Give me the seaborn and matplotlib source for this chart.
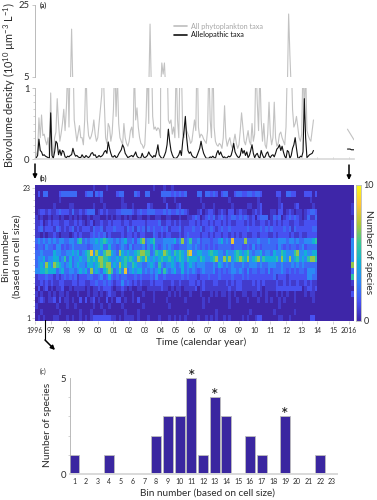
import numpy as np
import matplotlib
matplotlib.use('Agg')
import matplotlib.pyplot as plt
import seaborn as sns
from matplotlib.colors import LinearSegmentedColormap
from matplotlib.lines import Line2D
from matplotlib.patches import FancyArrowPatch

# --- data ---
grey_years = [
    [.03, .06, .12, .58, .30, .62, .33, .35, .26, .20, .30, .06],
    [.93, .12, .06, .30, .38, .85, .50, .25, .36, .50, .70, .40],
    [.72, 1.3, .45, 1.6, 18.3, 1.5, .55, .40, .25, .36, .47, .30],
    [.30, .20, .55, 1.3, .55, .33, .28, .32, .40, .55, .35, .25],
    [.30, .50, .70, .90, 1.4, .80, .30, .22, .50, .45, .25, .36],
    [.70, 1.4, .60, 1.2, .50, .30, .25, .20, .50, .30, .22, .18],
    [.25, .40, .45, .30, 1.3, .55, .72, .45, .30, .22, .20, .15],
    [.20, .60, 1.3, .50, 19.7, 1.6, .60, .42, .45, .40, .44, .42],
    [.30, 8.9, 5.8, 8.9, 1.3, 1.5, .55, .50, .55, .35, .45, .30],
    [1.4, .55, .30, 1.5, 1.3, .35, .30, .50, .40, .35, .30, .22],
    [.25, .40, .55, .40, 1.6, .45, .30, .35, .33, .28, .25, .22],
    [.40, 1.4, .55, .30, 1.5, .45, .25, .20, .18, .22, .20, .15],
    [.30, .75, .30, .18, .25, .30, .20, .15, .25, .35, .22, .15],
    [.20, .40, .65, .45, .25, .20, .30, .40, .25, .20, .50, .25],
    [.35, 1.4, .80, .40, 1.3, .55, .25, .50, .20, .15, .35, .80],
    [.35, .20, .30, .80, .30, .18, .22, .35, .38, .30, .25, .20],
    [.45, 1.3, 22.5, 10.8, 1.4, .70, .45, .50, .60, .45, .30, .25],
    [.35, 1.4, .60, 1.3, .40, .33, .28, .25, .40, .55],
]
black_years = [
    [.01, .02, .05, .28, .12, .10, .05, .06, .04, .03, .02, .01],
    [.65, .05, .01, .10, .25, .22, .06, .13, .05, .12, .10, .03],
    [.02, .04, .03, .05, .06, .15, .08, .04, .05, .03, .02, .02],
    [.06, .03, .02, .05, .03, .02, .04, .08, .09, .05, .06, .02],
    [.03, .05, .03, .04, .06, .10, .12, .08, .24, .15, .08, .03],
    [.03, .05, .02, .03, .07, .10, .13, .20, .16, .08, .05, .02],
    [.03, .04, .05, .03, .06, .10, .04, .02, .01, .02, .08, .03],
    [.02, .03, .05, .10, .06, .04, .02, .05, .03, .10, .20, .06],
    [.03, .01, .01, .05, .10, .20, .42, .25, .12, .06, .02, .01],
    [.01, .03, .06, .12, .05, .25, .40, .60, .30, .12, .08, .10],
    [.05, .03, .02, .01, .05, .10, .15, .25, .15, .08, .04, .01],
    [.01, .01, .03, .02, .04, .02, .01, .08, .12, .06, .10, .05],
    [.02, .03, .01, .02, .04, .03, .05, .12, .22, .10, .06, .03],
    [.02, .05, .15, .08, .12, .05, .10, .02, .05, .12, .20, .08],
    [.02, .06, .08, .03, .01, .12, .06, .02, .03, .08, .10, .04],
    [.02, .05, .06, .03, .08, .14, .16, .20, .12, .18, .10, .04],
    [.01, .12, .10, .01, .05, .15, .20, .30, .15, .02, .01, .04],
    [.03, .10, .85, .30, .02, .04, .06, .07, .08, .12],
]
tail_months = [239, 240, 241, 242, 243, 244]
grey_tail = [.42, .39, .36, .33, .30, .27]
black_tail = [.14, .14, .14, .13, .13, .13]

year_labels = ['1996', '97', '98', '99', '00', '01', '02', '03', '04', '05', '06',
               '07', '08', '09', '10', '11', '12', '13', '14', '15', '2016']

# rows from bin 23 (top) to bin 1, 1996-2013, six cells per year
# digits are colour classes, digit_species gives the species count of each
heat_rows = [
    "000000 000000 000000 000010 000100 000000 000000 000100 010010 000000 000000 000000 000000 000000 000000 000000 000000 000000",
    "020330 000233 333300 023303 230000 023300 003200 330000 333323 232300 003303 323202 330023 322332 332000 002200 332200 022202",
    "000000 000100 000000 000000 010000 000100 000000 000000 010001 000000 000100 000000 001000 000000 010000 000100 000000 000100",
    "000000 010000 011000 000010 001000 000110 010000 021000 002000 120000 000010 001000 000100 000110 012000 000120 000120 000010",
    "012212 112322 213112 123330 121211 122333 321232 233322 232322 323210 001201 221012 102201 211001 212000 110220 121011 012332",
    "101001 011010 010101 001011 100101 011010 100110 010011 001100 010011 232012 323123 212332 323212 023330 132301 232321 013113",
    "112012 122112 211212 101201 121121 222122 122222 122223 112212 121112 212122 121221 212112 221212 112212 121212 211221 122222",
    "123122 213212 123121 222132 231222 322213 231323 132322 323122 231222 322312 232123 223222 222322 223232 322223 231322 222233",
    "110101 121011 101212 111232 323121 111212 212122 111321 212211 121232 222122 121221 221212 122112 212221 121222 212112 112222",
    "343434 343443 344356 343445 456544 343453 342467 345633 344445 347346 334233 323345 343833 337333 343334 333444 344343 344456",
    "233243 324423 234333 332344 453353 323432 423334 243532 343432 233344 343232 323233 333233 322324 232333 332432 323323 423333",
    "334333 354433 445453 456847 546775 437545 445677 663465 576546 565478 445544 565544 354456 545643 445344 354465 444674 454455",
    "344534 455346 353445 446565 776654 454565 654765 754545 655654 565465 554654 456744 757456 765745 674655 556475 474564 546776",
    "345475 476543 453454 435545 676774 547564 465443 345436 434454 345345 434443 334354 343433 343344 434334 443343 334343 433333",
    "445565 553453 344345 453745 435676 346483 454553 434345 364345 335343 432343 334232 323443 432423 323324 233343 232323 324443",
    "122232 212123 232312 223322 342353 232332 223232 223242 232222 223232 221222 322232 222322 232322 222222 231222 122222 224433",
    "112121 211221 112212 211223 223232 122423 212121 112122 211121 121112 212121 112211 121212 211112 121211 112112 121121 121211",
    "020120 101120 010111 101011 212221 011210 100110 011111 211010 110111 120121 111111 112112 211111 121011 112222 222222 012212",
    "101001 010110 100010 001011 010121 100100 010001 000100 000101 010001 000100 010101 101010 011001 101010 001010 100100 010110",
    "012101 120201 101002 020120 100201 022010 010200 000100 001000 000100 000010 100000 001001 000100 010010 100101 000100 000010",
    "100000 001000 100100 000010 010010 000100 000001 000000 000100 000000 000010 000000 001000 000000 000000 000100 000000 000000",
    "001000 000100 000001 000100 001000 000010 000100 000000 000000 000010 000000 000100 000000 000010 000000 010000 000100 000000",
    "010100 011000 101001 010122 222221 101011 110100 010001 000101 010100 001001 010100 101000 010100 122000 000110 010000 000220",
]
# last cell on the right, the 2016 samples, from bin 23 to bin 1
heat_2016 = [0, 0, 0, 1, 1, 0, 1, 1, 1, 4, 4, 4, 4, 7, 3, 6, 1, 0, 2, 0, 0, 0, 0]
digit_species = np.array([0, .7, 1.4, 2.1, 3.0, 4.2, 5.4, 6.8, 8.2, 9.2])

bin_labels = [str(b) for b in range(1, 24)]
bin_species = [1, 0, 0, 1, 0, 0, 0, 2, 3, 3, 5, 1, 4, 3, 0, 2, 1, 0, 3, 0, 0, 1, 0]
starred_bins = ['11', '13', '19']

grey_vals = np.concatenate(grey_years)
black_vals = np.concatenate(black_years)
months = np.arange(len(grey_vals))

heat = digit_species[np.array([[int(c) for c in r.replace(' ', '')] + [0] * 13 + [last]
                               for r, last in zip(heat_rows, heat_2016)])]

# --- style ---
sns.set_style('white')
plt.rcParams['font.family'] = ['Lato', 'DejaVu Sans']
plt.rcParams['mathtext.default'] = 'regular'

W, H = 377, 500
fig = plt.figure(figsize=(W / 100, H / 100), dpi=100)


def box(x0, y0, x1, y1):
    # pixel box -> figure fractions
    return [x0 / W, 1 - y1 / H, (x1 - x0) / W, (y1 - y0) / H]


def fxy(x, y):
    return x / W, 1 - y / H


axis_grey = '#b0b0b0'
text_col = '#2b2b2b'
parula = LinearSegmentedColormap.from_list('parula', [
    (0.2422, 0.1504, 0.6603), (0.2810, 0.3228, 0.9579), (0.1786, 0.5289, 0.9682),
    (0.0689, 0.6948, 0.8394), (0.2161, 0.7843, 0.5923), (0.6720, 0.7793, 0.2227),
    (0.9970, 0.7659, 0.2199), (0.9769, 0.9839, 0.0805)])

# --- (a) broken axis line plot ---
ax_top = fig.add_axes(box(35, 5, 354, 77))
ax_low = fig.add_axes(box(35, 88, 354, 159))
for ax in (ax_top, ax_low):
    sns.lineplot(x=months, y=grey_vals, color='#c2c2c2', lw=0.8, estimator=None, ax=ax)
    sns.lineplot(x=tail_months, y=grey_tail, color='#c2c2c2', lw=0.8, estimator=None, ax=ax)
    sns.lineplot(x=months, y=black_vals, color='#111111', lw=0.8, estimator=None, ax=ax)
    sns.lineplot(x=tail_months, y=black_tail, color='#111111', lw=0.8, estimator=None, ax=ax)
    ax.set_xlim(0, 244)
    ax.set_xlabel('')
    ax.set_ylabel('')
    sns.despine(ax=ax, top=True, right=True)
    ax.spines['left'].set_color(axis_grey)
    ax.spines['left'].set_linewidth(0.6)

ax_top.set_ylim(5, 25)
ax_top.set_yticks([5, 25])
ax_top.set_xticks([])
ax_top.spines['bottom'].set_visible(False)
ax_top.tick_params(axis='y', labelsize=6.8, length=2, width=0.5, color=axis_grey,
                   labelcolor=text_col, pad=2, left=True)

ax_low.set_ylim(0, 1)
ax_low.set_yticks([0, 1])
ax_low.set_yticks(np.arange(0.1, 1.0, 0.1), minor=True)
ax_low.set_xticks(np.arange(0, 244, 12))
ax_low.set_xticklabels([])
ax_low.spines['bottom'].set_color('#d9d9d9')
ax_low.spines['bottom'].set_linewidth(1.2)
ax_low.tick_params(axis='y', which='major', labelsize=6.8, length=2, width=0.5,
                   color=axis_grey, labelcolor=text_col, pad=2, left=True)
ax_low.tick_params(axis='y', which='minor', length=1.5, width=0.4, color=axis_grey, left=True)
ax_low.tick_params(axis='x', direction='in', length=1.5, width=0.4, color=axis_grey, bottom=True)

ax_top.legend(handles=[Line2D([], [], color='#bdbdbd', lw=1.2, label='All phytoplankton taxa'),
                       Line2D([], [], color='#111111', lw=1.2, label='Allelopathic taxa')],
              loc='upper left', bbox_to_anchor=fxy(170, 19), bbox_transform=fig.transFigure,
              frameon=False, fontsize=5.2, handlelength=1.9, handletextpad=0.5,
              labelspacing=0.2, borderpad=0, labelcolor=['#a6a6a6', '#111111'])

# --- (b) heat map ---
ax_heat = fig.add_axes(box(35, 185, 354, 321))
cax = fig.add_axes(box(356, 185, 360.5, 321))
sns.heatmap(heat, cmap=parula, vmin=0, vmax=10, ax=ax_heat, cbar_ax=cax,
            xticklabels=False, yticklabels=False, rasterized=True)
ax_heat.set_xticks(np.arange(0, 121, 6))
ax_heat.set_xticklabels(year_labels, rotation=0)
ax_heat.set_yticks(np.arange(23) + 0.5, minor=True)
ax_heat.set_yticks([0.5, 22.5])
ax_heat.set_yticklabels(['23', '1'], rotation=0)
ax_heat.tick_params(axis='x', labelsize=5, length=2, width=0.4, color=axis_grey,
                    labelcolor=text_col, pad=2.5, bottom=True)
ax_heat.tick_params(axis='y', which='major', labelsize=5, length=2, width=0.4,
                    color=axis_grey, labelcolor=text_col, pad=1, left=True)
ax_heat.tick_params(axis='y', which='minor', length=1.5, width=0.4, color=axis_grey, left=True)

cax.set_yticks([0, 10])
cax.set_yticklabels(['0', '10'])
cax.tick_params(labelsize=6.5, length=0, pad=2, labelcolor=text_col)
for s in cax.spines.values():
    s.set_visible(True)
    s.set_color('#bfbfbf')
    s.set_linewidth(0.5)

# --- (c) bars ---
ax_bar = fig.add_axes(box(70, 378, 337, 474))
sns.barplot(x=bin_labels, y=bin_species, color='#3a26a0', saturation=1, width=0.85,
            edgecolor='#bdbdbd', linewidth=0.6, ax=ax_bar)
ax_bar.set_xlim(-0.35, 22.43)
ax_bar.set_ylim(0, 5)
ax_bar.set_yticks([0, 5])
ax_bar.set_yticks([1, 2, 3, 4], minor=True)
sns.despine(ax=ax_bar, top=True, right=True)
ax_bar.spines['left'].set_color(axis_grey)
ax_bar.spines['left'].set_linewidth(0.6)
ax_bar.spines['bottom'].set_color('#d9d9d9')
ax_bar.spines['bottom'].set_linewidth(1.4)
ax_bar.tick_params(axis='x', labelsize=5, length=0, pad=3, labelcolor=text_col)
ax_bar.tick_params(axis='y', which='major', labelsize=6.8, length=0, pad=3, labelcolor=text_col)
ax_bar.tick_params(axis='y', which='minor', length=1.5, width=0.4, color=axis_grey, left=True)
for b in starred_bins:
    i = bin_labels.index(b)
    ax_bar.annotate('*', (i, bin_species[i]), xytext=(0, -5), textcoords='offset points',
                    ha='center', va='bottom', fontsize=13, color='#111111',
                    annotation_clip=False)

# --- labels ---
fig.text(*fxy(40, 5.5), '(a)', fontsize=4.8, fontweight='bold', color=text_col, va='center')
fig.text(*fxy(40, 178), '(b)', fontsize=4.8, fontweight='bold', color=text_col, va='center')
fig.text(*fxy(40, 371), '(c)', fontsize=4.8, color=text_col, va='center')
fig.text(*fxy(10, 85), 'Biovolume density (10$^{10}$ µm$^{-3}$ L$^{-1}$)', rotation=90,
         fontsize=7.8, color=text_col, ha='center', va='center')
fig.text(*fxy(12, 256), 'Bin number\n(based on cell size)', rotation=90, fontsize=7.4,
         color=text_col, ha='center', va='center', linespacing=1.25)
fig.text(*fxy(201, 342), 'Time (calendar year)', fontsize=7.3, color=text_col,
         ha='center', va='center')
fig.text(*fxy(369, 252), 'Number of species', rotation=270, fontsize=7.4, color=text_col,
         ha='center', va='center')
fig.text(*fxy(48, 425), 'Number of species', rotation=90, fontsize=7.4, color=text_col,
         ha='center', va='center')
fig.text(*fxy(207, 493), 'Bin number (based on cell size)', fontsize=7.2, color=text_col,
         ha='center', va='center')

# --- arrows between the panels ---
for start, end in [((35, 164), (35, 179)), ((349, 165), (349, 180)), ((45, 340), (55, 350))]:
    fig.add_artist(FancyArrowPatch(fxy(*start), fxy(*end), transform=fig.transFigure,
                                   arrowstyle='-|>', mutation_scale=6, lw=1.1, color='black',
                                   shrinkA=0, shrinkB=0))
fig.add_artist(Line2D(*zip(fxy(45, 320), fxy(45, 340)), transform=fig.transFigure,
                      color='black', lw=0.8))

fig.savefig('out.png', dpi=100)
